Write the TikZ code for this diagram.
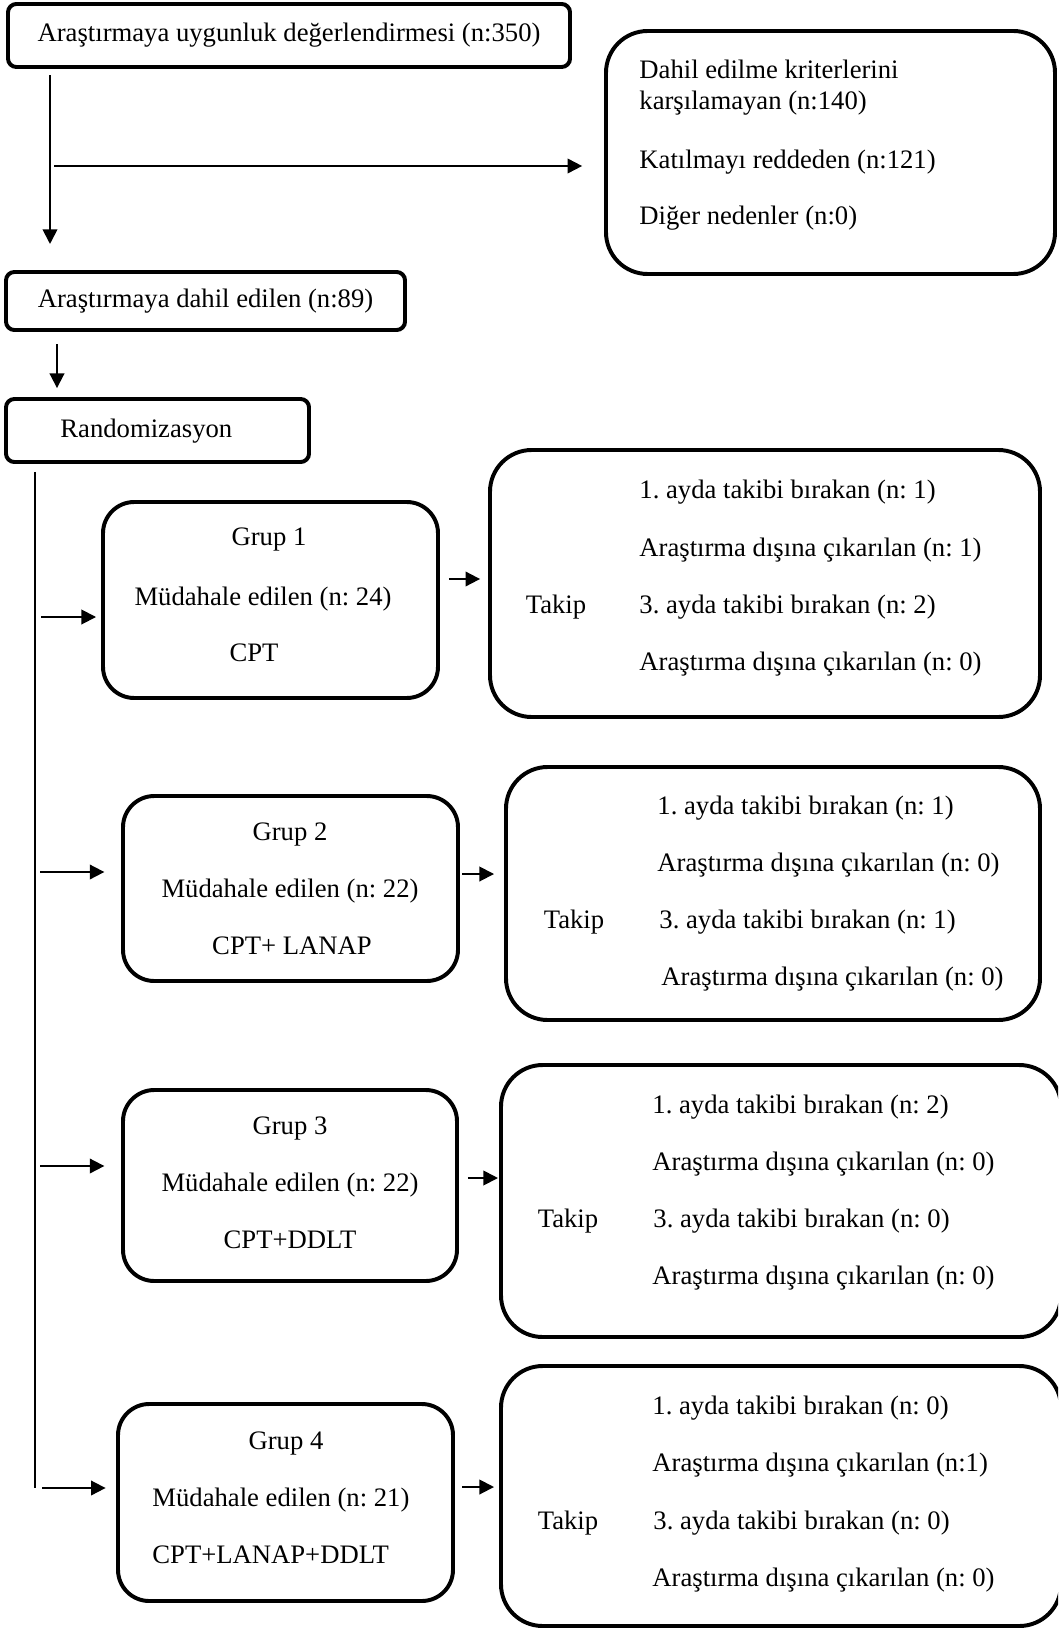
\documentclass[tikz,border=0pt]{standalone}
\usepackage{fontspec}
\setmainfont{Liberation Serif}
\usetikzlibrary{arrows.meta}
\frenchspacing

% one pixel of the flow chart
\newcommand{\pu}{0.48pt}

\begin{document}
\begin{tikzpicture}[x=0.48pt, y=-0.48pt,
    box/.style={draw, line width=1.9pt, rounded corners=4pt, inner sep=0pt},
    grpbox/.style={box, rounded corners=15pt},
    folbox/.style={box, rounded corners=20pt},
    txt/.style={inner sep=0pt, text height=8.9pt, text depth=2.8pt, font=\fontsize{12.8pt}{15pt}\selectfont},
    arr/.style={line width=0.9pt, -{Triangle[length=7pt, width=7pt]}},
    spine/.style={line width=0.7pt}]

    % Page size
    \useasboundingbox (0,0) rectangle (1058,1629);
    \clip (0,0) rectangle (1058,1629);

    % Top boxes
    \node[box, txt, minimum width=562*\pu, minimum height=63*\pu] (elig) at (289,35.5) {Araştırmaya uygunluk değerlendirmesi (n:350)};
    \node[folbox, minimum width=449*\pu, minimum height=243*\pu] (excl) at (830.5,152.5) {};
    \node[txt, anchor=west] (excl1) at (639,72) {Dahil edilme kriterlerini};
    \node[txt, anchor=west] (excl2) at (639,103) {karşılamayan (n:140)};
    \node[txt, anchor=west] (excl3) at (639,162) {Katılmayı reddeden (n:121)};
    \node[txt, anchor=west] (excl4) at (639,218) {Diğer nedenler (n:0)};

    \node[box, txt, minimum width=399*\pu, minimum height=58*\pu] (incl) at (205.5,301) {Araştırmaya dahil edilen (n:89)};
    \node[box, minimum width=303*\pu, minimum height=63*\pu] (rand) at (157.5,430.5) {};
    \node[txt, anchor=west] (randt) at (60,431) {Randomizasyon};

    % Arrows at the top
    \coordinate (downx) at (50,0);
    \draw[arr, shorten <=2.9pt, shorten >=12.5pt] (elig.south -| downx) -- (incl.north -| downx);
    \coordinate (exclx) at (54,166);
    \draw[arr, shorten >=10.5pt] (exclx) -- (excl.west |- exclx);
    \coordinate (inclx) at (57,0);
    \draw[arr, shorten <=6pt, shorten >=4.3pt] (incl.south -| inclx) -- (rand.north -| inclx);

    % Vertical line on the left
    \coordinate (spine) at (35,1488);
    \draw[spine, shorten <=3.8pt] (rand.south -| spine) -- (spine);

    % Grup 1
    \node[grpbox, minimum width=335*\pu, minimum height=196*\pu] (grp1) at (270.5,600) {};
    \node[txt] (grp1a) at (269,539) {Grup 1};
    \node[txt] (grp1b) at (263,599) {Müdahale edilen (n: 24)};
    \node[txt] (grp1c) at (254,655) {CPT};
    \node[folbox, minimum width=550*\pu, minimum height=267*\pu] (fol1) at (765,583.5) {};
    \node[txt] (fol1t) at (556,607) {Takip};
    \node[txt, anchor=west] (fol1a) at (639,492) {1. ayda takibi bırakan (n: 1)};
    \node[txt, anchor=west] (fol1b) at (639,550) {Araştırma dışına çıkarılan (n: 1)};
    \node[txt, anchor=west] (fol1c) at (639,607) {3. ayda takibi bırakan (n: 2)};
    \node[txt, anchor=west] (fol1d) at (639,664) {Araştırma dışına çıkarılan (n: 0)};

    % Grup 2
    \node[grpbox, minimum width=335*\pu, minimum height=185*\pu] (grp2) at (290.5,888.5) {};
    \node[txt] (grp2a) at (290,834) {Grup 2};
    \node[txt] (grp2b) at (290,891) {Müdahale edilen (n: 22)};
    \node[txt] (grp2c) at (292,948) {CPT+ LANAP};
    \node[folbox, minimum width=534*\pu, minimum height=253*\pu] (fol2) at (773,893.5) {};
    \node[txt] (fol2t) at (574,922) {Takip};
    \node[txt, anchor=west] (fol2a) at (657,808) {1. ayda takibi bırakan (n: 1)};
    \node[txt, anchor=west] (fol2b) at (657,865) {Araştırma dışına çıkarılan (n: 0)};
    \node[txt, anchor=west] (fol2c) at (659,922) {3. ayda takibi bırakan (n: 1)};
    \node[txt, anchor=west] (fol2d) at (661,979) {Araştırma dışına çıkarılan (n: 0)};

    % Grup 3
    \node[grpbox, minimum width=334*\pu, minimum height=191*\pu] (grp3) at (290,1185.5) {};
    \node[txt] (grp3a) at (290,1128) {Grup 3};
    \node[txt] (grp3b) at (290,1185) {Müdahale edilen (n: 22)};
    \node[txt] (grp3c) at (290,1242) {CPT+DDLT};
    \node[folbox, minimum width=560*\pu, minimum height=272*\pu] (fol3) at (781,1201) {};
    \node[txt] (fol3t) at (568,1221) {Takip};
    \node[txt, anchor=west] (fol3a) at (652,1107) {1. ayda takibi bırakan (n: 2)};
    \node[txt, anchor=west] (fol3b) at (652,1164) {Araştırma dışına çıkarılan (n: 0)};
    \node[txt, anchor=west] (fol3c) at (653,1221) {3. ayda takibi bırakan (n: 0)};
    \node[txt, anchor=west] (fol3d) at (652,1278) {Araştırma dışına çıkarılan (n: 0)};

    % Grup 4
    \node[grpbox, minimum width=335*\pu, minimum height=197*\pu] (grp4) at (285.5,1502.5) {};
    \node[txt] (grp4a) at (286,1443) {Grup 4};
    \node[txt, anchor=west] (grp4b) at (152,1500) {Müdahale edilen (n: 21)};
    \node[txt, anchor=west] (grp4c) at (152,1557) {CPT+LANAP+DDLT};
    \node[folbox, minimum width=560*\pu, minimum height=260*\pu] (fol4) at (781,1496) {};
    \node[txt] (fol4t) at (568,1523) {Takip};
    \node[txt, anchor=west] (fol4a) at (652,1408) {1. ayda takibi bırakan (n: 0)};
    \node[txt, anchor=west] (fol4b) at (652,1465) {Araştırma dışına çıkarılan (n:1)};
    \node[txt, anchor=west] (fol4c) at (653,1523) {3. ayda takibi bırakan (n: 0)};
    \node[txt, anchor=west] (fol4d) at (652,1580) {Araştırma dışına çıkarılan (n: 0)};

    % Arrows into the groups
    \coordinate (br1) at (41,617);
    \draw[arr, shorten >=2.4pt] (br1) -- (grp1.west |- br1);
    \coordinate (br2) at (40,872);
    \draw[arr, shorten >=8pt] (br2) -- (grp2.west |- br2);
    \coordinate (br3) at (40,1166);
    \draw[arr, shorten >=8pt] (br3) -- (grp3.west |- br3);
    \coordinate (br4) at (42,1488);
    \draw[arr, shorten >=5pt] (br4) -- (grp4.west |- br4);

    % Arrows to the follow-up boxes
    \coordinate (fo1) at (0,579);
    \draw[arr, shorten <=4.3pt, shorten >=3.8pt] (grp1.east |- fo1) -- (fol1.west |- fo1);
    \coordinate (fo2) at (0,874);
    \draw[arr, shorten <=1pt, shorten >=4.8pt] (grp2.east |- fo2) -- (fol2.west |- fo2);
    \coordinate (fo3) at (0,1178);
    \draw[arr, shorten <=4.3pt, shorten >=0.5pt] (grp3.east |- fo3) -- (fol3.west |- fo3);
    \coordinate (fo4) at (0,1487);
    \draw[arr, shorten <=3.4pt, shorten >=2.4pt] (grp4.east |- fo4) -- (fol4.west |- fo4);

\end{tikzpicture}
\end{document}
